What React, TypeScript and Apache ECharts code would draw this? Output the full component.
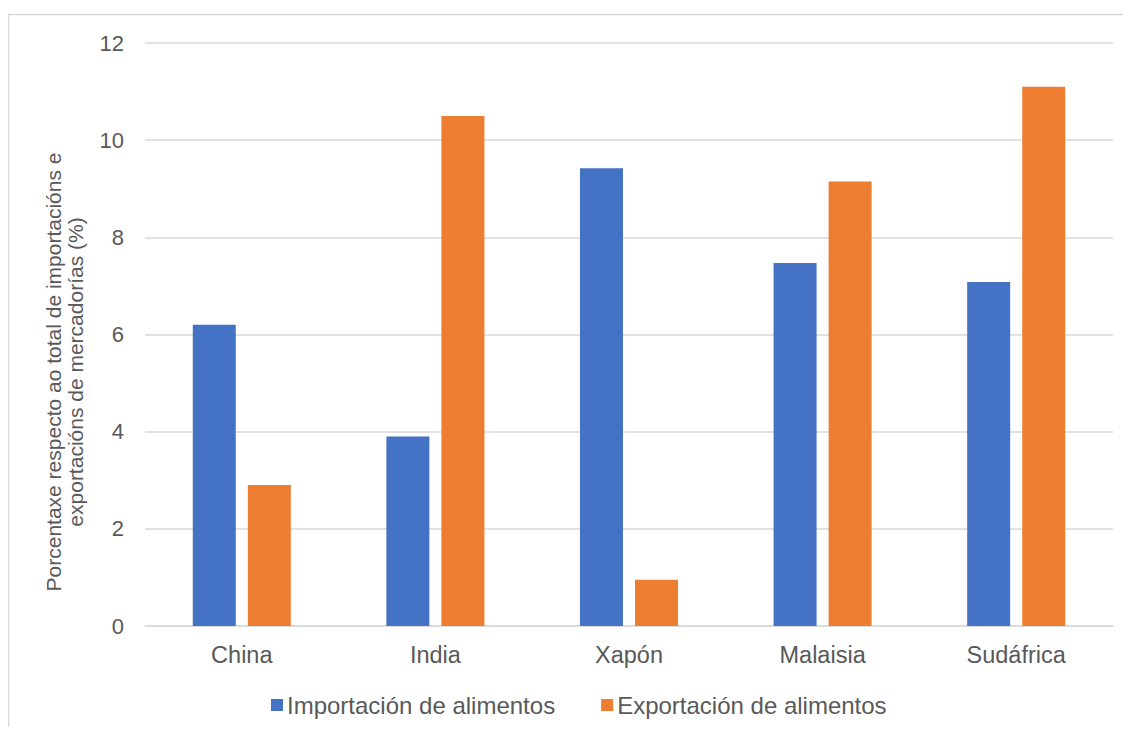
import React, { useEffect, useRef } from "react";
import * as echarts from "echarts";

const categories = ["China", "India", "Xapón", "Malaisia", "Sudáfrica"];
const importValues = [6.2, 3.9, 9.42, 7.47, 7.08];
const exportValues = [2.9, 10.5, 0.95, 9.15, 11.1];
const seriesNames = ["Importación de alimentos", "Exportación de alimentos"];
const yAxisTitleLines = [
  "Porcentaxe respecto ao total de importacións e",
  "exportacións de mercadorías (%)",
];

const FONT = "'Liberation Sans', Arial, sans-serif";
const TEXT = "#595959";

export default function App() {
  const ref = useRef<HTMLDivElement>(null);
  useEffect(() => {
    if (!ref.current) return;
    const chart = echarts.init(ref.current, undefined, { renderer: "svg" });
    chart.setOption({
      animation: false,
      textStyle: { fontFamily: FONT },
      graphic: [
        {
          type: "rect",
          shape: { x: 0.5, y: 6.5, width: 1300, height: 900 },
          style: { fill: "none", stroke: "#d9d9d9", lineWidth: 1.5 },
          silent: true,
        },
        {
          type: "text",
          x: 56,
          y: 364,
          rotation: Math.PI / 2,
          style: {
            text: yAxisTitleLines.join("\n"),
            fontSize: 21,
            fontFamily: FONT,
            fill: TEXT,
            align: "center",
            verticalAlign: "middle",
            lineHeight: 22,
          },
        },
      ],
      grid: { left: 137, top: 35, width: 968, height: 583, containLabel: false },
      legend: {
        data: seriesNames,
        left: 258,
        top: 680,
        itemWidth: 12,
        itemHeight: 12,
        itemGap: 46,
        icon: "rect",
        textStyle: { fontSize: 24, color: TEXT, fontFamily: FONT, padding: [0, 0, 0, -1] },
      },
      xAxis: {
        type: "category",
        data: categories,
        axisLine: { lineStyle: { color: "#d9d9d9", width: 1.5 } },
        axisTick: { show: false },
        axisLabel: { fontSize: 23.5, color: TEXT, margin: 17, fontFamily: FONT },
      },
      yAxis: {
        type: "value",
        min: 0,
        max: 12,
        interval: 2,
        axisLine: { show: false },
        axisTick: { show: false },
        axisLabel: { fontSize: 22, color: TEXT, margin: 21, fontFamily: FONT },
        splitLine: { lineStyle: { color: "#d9d9d9", width: 1.5 } },
      },
      series: [
        {
          name: seriesNames[0],
          type: "bar",
          data: importValues,
          barWidth: 43,
          barGap: "28%",
          itemStyle: { color: "#4472C4" },
        },
        {
          name: seriesNames[1],
          type: "bar",
          data: exportValues,
          barWidth: 43,
          itemStyle: { color: "#ED7D31" },
        },
      ],
    });
    return () => chart.dispose();
  }, []);
  return <div ref={ref} style={{ width: 1123, height: 719 }} />;
}
